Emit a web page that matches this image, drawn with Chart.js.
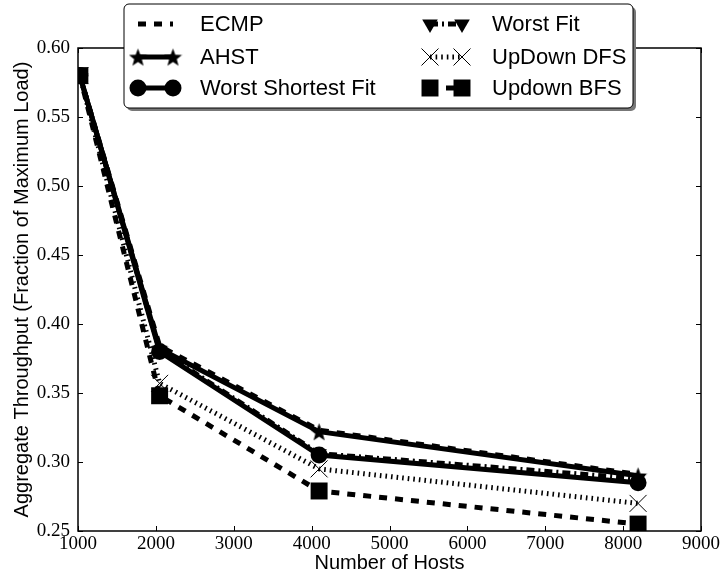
<!DOCTYPE html>
<html>
<head>
<meta charset="utf-8">
<script src="https://cdn.jsdelivr.net/npm/chart.js@4/dist/chart.umd.min.js"></script>
<style>
  html, body { margin: 0; padding: 0; background: #fff; }
  #wrap { width: 722px; height: 575px; }
</style>
</head>
<body>
<div id="wrap"><canvas id="chart"></canvas></div>
<script>
// Aggregate throughput vs. number of hosts
const hosts = [1024, 2048, 4096, 8192];
const ecmp = [0.580, 0.384, 0.323, 0.291];
const ahst = [0.580, 0.382, 0.322, 0.290];
const worstShortestFit = [0.580, 0.380, 0.305, 0.285];
const worstFit = [0.580, 0.381, 0.306, 0.288];
const upDownDfs = [0.580, 0.357, 0.295, 0.270];
const upDownBfs = [0.580, 0.348, 0.279, 0.255];

const xTicks = [1000, 2000, 3000, 4000, 5000, 6000, 7000, 8000, 9000];
const yTicks = [0.25, 0.30, 0.35, 0.40, 0.45, 0.50, 0.55, 0.60];

// filled five point star used as a marker
function makeStar(size) {
  const c = document.createElement('canvas');
  c.width = c.height = size;
  const g = c.getContext('2d');
  g.fillStyle = '#000';
  g.beginPath();
  for (let i = 0; i < 10; i++) {
    const r = i % 2 ? size * 0.21 : size / 2;
    const a = -Math.PI / 2 + i * Math.PI / 5;
    const px = size / 2 + r * Math.cos(a);
    const py = size / 2 + 1 + r * Math.sin(a);
    if (i === 0) g.moveTo(px, py); else g.lineTo(px, py);
  }
  g.closePath();
  g.fill();
  return c;
}
const star = makeStar(19);

function series(label, values, style) {
  return Object.assign({
    label: label,
    data: hosts.map((h, i) => ({x: h, y: values[i]})),
    borderColor: '#000',
    backgroundColor: '#000',
    pointBackgroundColor: '#000',
    pointBorderColor: '#000',
    borderWidth: 5,
    pointBorderWidth: 0,
    tension: 0,
    fill: false
  }, style);
}

const datasets = [
  series('ECMP', ecmp, {borderDash: [8, 8], pointRadius: 0, order: 6}),
  series('AHST', ahst, {pointStyle: star, pointRadius: 9, order: 5}),
  series('Worst Shortest Fit', worstShortestFit, {pointStyle: 'circle', pointRadius: 8.5, order: 4}),
  series('Worst Fit', worstFit, {borderDash: [8, 4, 2, 4], pointStyle: 'triangle', pointRotation: 180, pointRadius: 9, order: 3}),
  series('UpDown DFS', upDownDfs, {borderWidth: 5, borderDash: [1.6, 4], pointStyle: 'crossRot', pointRadius: 12, pointBorderWidth: 1, order: 2}),
  series('Updown BFS', upDownBfs, {borderDash: [8, 8], pointStyle: 'rect', pointRadius: 12, order: 1})
];

// frame on all four sides with ticks pointing inwards
const frame = {
  id: 'frame',
  afterDatasetsDraw(chart) {
    const {ctx, chartArea: a, scales} = chart;
    ctx.save();
    ctx.strokeStyle = '#000';
    ctx.lineWidth = 1.5;
    ctx.strokeRect(a.left, a.top, a.right - a.left, a.bottom - a.top);
    ctx.lineWidth = 1;
    const len = 5;
    ctx.beginPath();
    xTicks.forEach(v => {
      const px = Math.round(scales.x.getPixelForValue(v)) + 0.5;
      ctx.moveTo(px, a.bottom); ctx.lineTo(px, a.bottom - len);
      ctx.moveTo(px, a.top); ctx.lineTo(px, a.top + len);
    });
    yTicks.forEach(v => {
      const py = Math.round(scales.y.getPixelForValue(v)) + 0.5;
      ctx.moveTo(a.left, py); ctx.lineTo(a.left + len, py);
      ctx.moveTo(a.right, py); ctx.lineTo(a.right - len, py);
    });
    ctx.stroke();
    ctx.restore();
  }
};

// two column legend box with shadow
const boxLegend = {
  id: 'boxLegend',
  afterDraw(chart) {
    const ctx = chart.ctx;
    const box = {x: 124, y: 4, w: 509, h: 104, r: 5};
    const rr = (x, y) => {
      ctx.beginPath();
      ctx.roundRect(x, y, box.w, box.h, box.r);
    };
    ctx.save();
    ctx.fillStyle = '#777';
    rr(box.x + 3, box.y + 3);
    ctx.fill();
    ctx.fillStyle = '#fff';
    rr(box.x, box.y);
    ctx.fill();
    ctx.strokeStyle = '#000';
    ctx.lineWidth = 1;
    ctx.stroke();

    const cols = [{x0: 138, x1: 173, tx: 200}, {x0: 430, x1: 462, tx: 492}];
    const rows = [24, 57, 88];
    chart.data.datasets.forEach((ds, i) => {
      const c = cols[Math.floor(i / 3)];
      const y = rows[i % 3];
      ctx.strokeStyle = '#000';
      ctx.lineWidth = ds.borderWidth;
      ctx.setLineDash(ds.borderDash || []);
      ctx.beginPath();
      ctx.moveTo(c.x0, y);
      ctx.lineTo(c.x1, y);
      ctx.stroke();
      ctx.setLineDash([]);
      if (ds.pointRadius > 0) {
        ctx.fillStyle = '#000';
        ctx.lineWidth = ds.pointBorderWidth || 0;
        const opts = {
          pointStyle: ds.pointStyle,
          rotation: ds.pointRotation || 0,
          radius: ds.pointRadius,
          borderWidth: ds.pointBorderWidth || 0
        };
        [c.x0, c.x1].forEach(px => Chart.helpers.drawPoint(ctx, opts, px, y));
      }
      ctx.fillStyle = '#000';
      ctx.font = '22px "Liberation Sans", Arial, sans-serif';
      ctx.textBaseline = 'middle';
      ctx.textAlign = 'left';
      ctx.fillText(ds.label, c.tx, y + 1);
    });
    ctx.restore();
  }
};

const tickFont = {family: '"Liberation Serif", "DejaVu Serif", serif', size: 19};
const titleFont = {family: '"Liberation Sans", Arial, sans-serif', size: 20};

new Chart(document.getElementById('chart'), {
  type: 'line',
  data: {datasets: datasets},
  options: {
    responsive: true,
    maintainAspectRatio: false,
    animation: false,
    events: [],
    layout: {padding: {top: 48, right: 20, left: 0, bottom: 0}},
    plugins: {legend: {display: false}, tooltip: {enabled: false}},
    scales: {
      x: {
        type: 'linear',
        min: 1000,
        max: 9000,
        afterFit: s => { s.height = 44; },
        afterBuildTicks: s => { s.ticks = xTicks.map(v => ({value: v})); },
        grid: {display: false, drawTicks: false},
        border: {display: false},
        ticks: {color: '#000', font: tickFont, padding: 2, maxRotation: 0,
          callback: v => String(v)},
        title: {display: true, text: 'Number of Hosts', color: '#000', font: titleFont,
          padding: {top: 0, bottom: 0}}
      },
      y: {
        min: 0.25,
        max: 0.60,
        afterFit: s => { s.width = 78; },
        afterBuildTicks: s => { s.ticks = yTicks.map(v => ({value: v})); },
        grid: {display: false, drawTicks: false},
        border: {display: false},
        ticks: {color: '#000', font: tickFont, padding: 8,
          callback: v => v.toFixed(2)},
        title: {display: true, text: 'Aggregate Throughput (Fraction of Maximum Load)',
          color: '#000', font: titleFont, padding: {top: 10, bottom: 0}}
      }
    }
  },
  plugins: [frame, boxLegend]
});
</script>
</body>
</html>
